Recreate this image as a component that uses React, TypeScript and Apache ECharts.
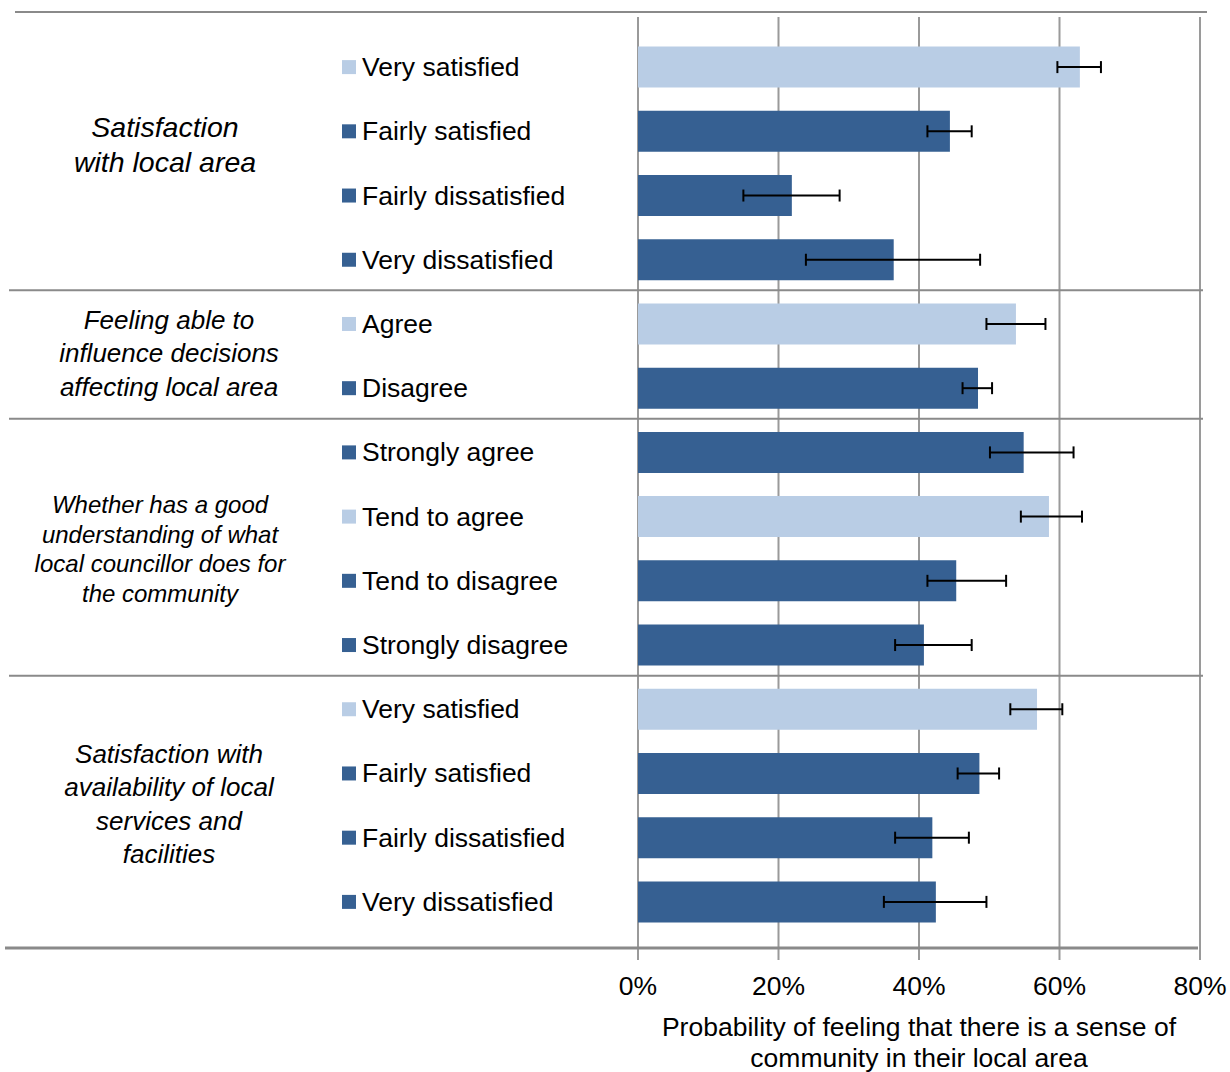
import { useEffect, useRef } from 'react';
import * as echarts from 'echarts';

const categories = [
  'Very satisfied', 'Fairly satisfied', 'Fairly dissatisfied', 'Very dissatisfied',
  'Agree', 'Disagree',
  'Strongly agree', 'Tend to agree', 'Tend to disagree', 'Strongly disagree',
  'Very satisfied', 'Fairly satisfied', 'Fairly dissatisfied', 'Very dissatisfied',
];
const values = [62.9, 44.4, 21.9, 36.4, 53.8, 48.4, 54.9, 58.5, 45.3, 40.7, 56.8, 48.6, 41.9, 42.4];
const lower = [59.7, 41.2, 15.0, 23.9, 49.6, 46.2, 50.1, 54.5, 41.2, 36.6, 53.0, 45.5, 36.6, 35.0];
const upper = [65.9, 47.5, 28.7, 48.7, 58.0, 50.4, 62.0, 63.2, 52.4, 47.5, 60.4, 51.4, 47.1, 49.6];
const highlighted = [true, false, false, false, true, false, false, true, false, false, true, false, false, false];
const groupLabels = [
  'Satisfaction\nwith local area',
  'Feeling able to\ninfluence decisions\naffecting local area',
  'Whether has a good\nunderstanding of what\nlocal councillor does for\nthe community',
  'Satisfaction with\navailability of local\nservices and\nfacilities',
];
const groupEnds = [3, 5, 9]; // last index of each group before a separator
const xTicks = [0, 20, 40, 60, 80];
const axisTitle = 'Probability of feeling that there is a sense of\ncommunity in their local area';

const DARK = '#366092';
const LIGHT = '#b9cde5';
const FONT = '"Liberation Sans", Arial, sans-serif';

export default function App() {
  const ref = useRef<HTMLDivElement>(null);
  useEffect(() => {
    if (!ref.current) return;
    const chart = echarts.init(ref.current, null, { renderer: 'svg' });
    const option: any = {
      animation: false,
      backgroundColor: '#ffffff',
      textStyle: { fontFamily: FONT },
      grid: { left: 638, right: 30, top: 35, bottom: 138, containLabel: false, outerBoundsMode: 'none' },
      xAxis: {
        type: 'value',
        min: 0,
        max: 80,
        interval: 20,
        axisLine: { show: false },
        axisTick: { show: false },
        splitLine: { show: false },
        axisLabel: { formatter: '{value}%', fontSize: 26.5, color: '#000', margin: 38, fontFamily: FONT },
        name: axisTitle,
        nameLocation: 'middle',
        nameGap: 77,
        nameTextStyle: { fontSize: 26.5, color: '#000', lineHeight: 31, fontFamily: FONT },
      },
      yAxis: {
        type: 'category',
        inverse: true,
        data: categories.map((_, i) => String(i)),
        axisLine: { show: false },
        axisTick: { show: false },
        splitLine: { show: false },
        axisLabel: {
          align: 'left',
          margin: 296,
          formatter: (_v: string, i: number) =>
            `{${highlighted[i] ? 'sqL' : 'sqD'}|}{gap|}{t|${categories[i]}}`,
          rich: {
            sqL: { width: 14, height: 14, backgroundColor: LIGHT },
            sqD: { width: 14, height: 14, backgroundColor: DARK },
            gap: { width: 6, height: 14 },
            t: { fontSize: 26.5, color: '#000', fontFamily: FONT },
          },
        },
      },
      series: [
        {
          type: 'bar',
          barWidth: 41,
          z: 3,
          data: values.map((v, i) => ({ value: v, itemStyle: { color: highlighted[i] ? LIGHT : DARK } })),
        },
        {
          type: 'custom',
          z: 5,
          encode: { x: [0, 1], y: 2 },
          data: lower.map((l, i) => [l, upper[i], i]),
          renderItem: (params: any, api: any) => {
            const a = api.coord([api.value(0), api.value(2)]);
            const b = api.coord([api.value(1), api.value(2)]);
            const h = 6;
            const style = { stroke: '#000', lineWidth: 2 };
            return {
              type: 'group',
              children: [
                { type: 'line', shape: { x1: a[0], y1: a[1], x2: b[0], y2: b[1] }, style },
                { type: 'line', shape: { x1: a[0], y1: a[1] - h, x2: a[0], y2: a[1] + h }, style },
                { type: 'line', shape: { x1: b[0], y1: b[1] - h, x2: b[0], y2: b[1] + h }, style },
              ],
            };
          },
        },
      ],
    };
    chart.setOption(option);

    const xs = xTicks.map((t) => chart.convertToPixel({ xAxisIndex: 0 }, t) as number);
    const yOf = (i: number) => chart.convertToPixel({ yAxisIndex: 0 }, i) as number;
    const graphics: any[] = [];
    xs.forEach((x) => {
      graphics.push({
        type: 'line', z: 0, silent: true,
        shape: { x1: x, y1: 17, x2: x, y2: 960 },
        style: { stroke: '#9a9a9a', lineWidth: 2 },
      });
    });
    const hStyle = { stroke: '#8a8a8a', lineWidth: 2 };
    graphics.push({ type: 'line', z: 10, shape: { x1: 15, y1: 12, x2: 1207, y2: 12 }, style: hStyle });
    groupEnds.forEach((gi) => {
      const y = (yOf(gi) + yOf(gi + 1)) / 2 - 1.5;
      graphics.push({ type: 'line', z: 10, shape: { x1: 9, y1: y, x2: 1203, y2: y }, style: hStyle });
    });
    graphics.push({ type: 'line', z: 10, shape: { x1: 5, y1: 948, x2: 1198, y2: 948 }, style: { stroke: '#8a8a8a', lineWidth: 3 } });

    const groupPos = [
      { x: 165, y: 144, size: 28.5, lh: 35 },
      { x: 169, y: 353, size: 26, lh: 33.5 },
      { x: 160, y: 549, size: 24, lh: 29.7 },
      { x: 169, y: 804, size: 26, lh: 33.3 },
    ];
    groupLabels.forEach((t, i) => {
      const p = groupPos[i];
      graphics.push({
        type: 'text', z: 10,
        x: p.x, y: p.y,
        style: {
          text: t,
          align: 'center',
          verticalAlign: 'middle',
          fontSize: p.size,
          lineHeight: p.lh,
          fontStyle: 'italic',
          fontFamily: FONT,
          fill: '#000',
        },
      });
    });
    chart.setOption({ graphic: graphics });

    return () => chart.dispose();
  }, []);
  return <div ref={ref} style={{ position: 'absolute', left: 0, top: 0, width: 1230, height: 1072 }} />;
}
